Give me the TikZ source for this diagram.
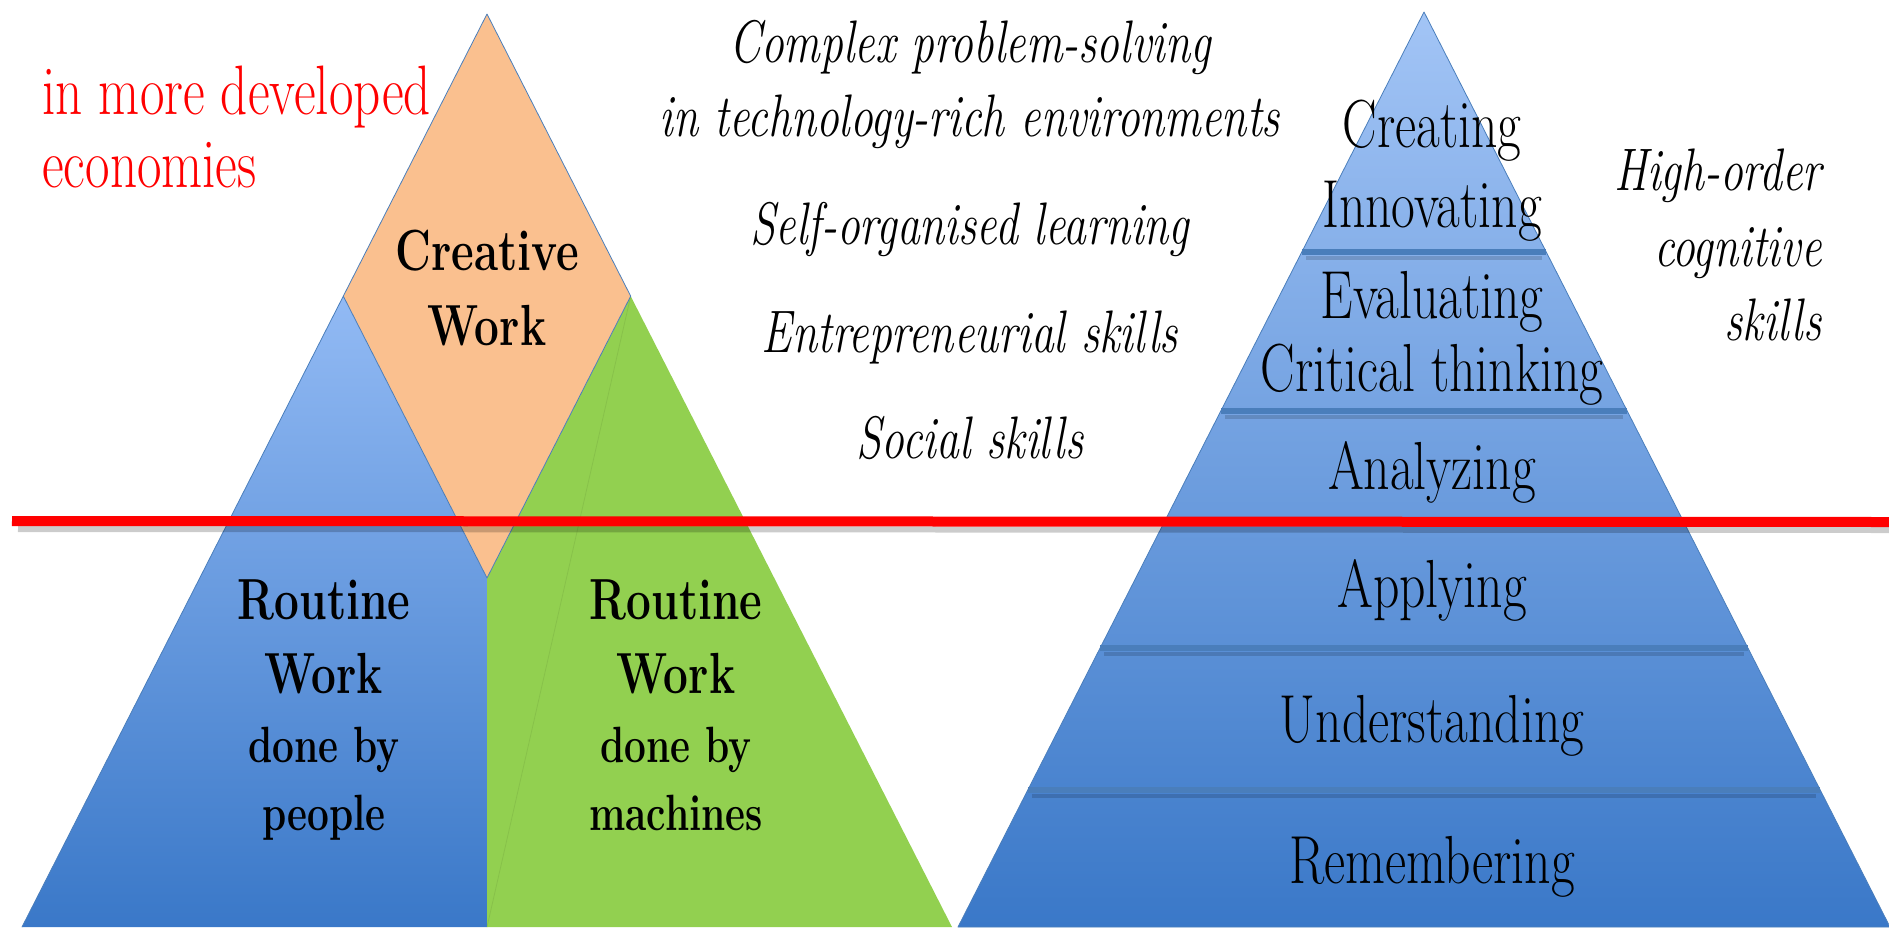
\documentclass[tikz,border=0pt]{standalone}
\usepackage{fontspec}
\usetikzlibrary{calc}
\definecolor{peach}{RGB}{250,192,143}
\definecolor{leaf}{RGB}{146,208,80}
\definecolor{skyTop}{RGB}{146,186,244}
\definecolor{skyBot}{RGB}{58,120,200}
\definecolor{bandLine}{RGB}{74,126,187}
\newcommand{\nar}[1]{\scalebox{0.76}[1]{#1}}

\begin{document}
\begin{tikzpicture}[x=0.5pt, y=-0.5pt, line join=round, line cap=round,
	lbl/.style={anchor=base, inner sep=0pt, font=\fontsize{34pt}{40pt}\selectfont},
	bold/.style={anchor=base, inner sep=0pt, font=\fontsize{29pt}{34pt}\selectfont\bfseries},
	boldsm/.style={anchor=base, inner sep=0pt, font=\fontsize{25.5pt}{30pt}\selectfont\bfseries},
	skill/.style={anchor=base, inner sep=0pt, font=\fontsize{30pt}{36pt}\selectfont\itshape},
	note/.style={anchor=base west, inner sep=0pt, text=red, font=\fontsize{35pt}{42pt}\selectfont}]
	\useasboundingbox (0,0) rectangle (1889,932);
	% left pyramid: routine and creative work
	\coordinate (LA) at (487,14);
	\coordinate (LL) at (22,927);
	\coordinate (LR) at (952,927);
	\coordinate (LM) at (487,927);
	\coordinate (DL) at ($(LA)!0.309!(LL)$);
	\coordinate (DR) at ($(LA)!0.309!(LR)$);
	\coordinate (DB) at (487,578);
	\shade[top color=skyTop, bottom color=skyBot] (DL) -- (LL) -- (LM) -- (DB) -- cycle;
	\fill[leaf] (DR) -- (DB) -- (LM) -- (LR) -- cycle;
	\draw[leaf!80!black, opacity=0.35] (DR) -- (LM);
	\fill[peach] (LA) -- (DL) -- (DB) -- (DR) -- cycle;
	\draw[bandLine, line width=0.4pt] (LL) -- (LA) -- (DR) -- (DB) -- (DL);
	% right pyramid: cognitive levels
	\coordinate (RA) at (1424,12);
	\coordinate (RL) at (958,927);
	\coordinate (RR) at (1890,927);
	\shadedraw[top color=skyTop!85!white, bottom color=skyBot, draw=bandLine, line width=0.4pt] (RA) -- (RL) -- (RR) -- cycle;
	\foreach \t in {0.2623,0.4361,0.6951,0.8503}{
		\draw[black, opacity=0.15, line width=2pt, line cap=butt] ($(RA)!\t!(RL)+(4,6)$) -- ($(RA)!\t!(RR)+(-4,6)$);
		\draw[bandLine, line width=3pt, line cap=butt] ($(RA)!\t!(RL)$) -- ($(RA)!\t!(RR)$);
	}
	% red divide
	\coordinate (RedL) at (12,521);
	\coordinate (RedR) at (1889,522);
	\draw[black, opacity=0.2, line width=3pt, line cap=butt] ($(RedL)+(6,8)$) -- ($(RedR)+(0,8)$);
	\draw[red, line width=5pt, line cap=butt] (RedL) -- (RedR);
	% texts
	\node[note] (dev1) at (42,114) {\nar{in more developed}};
	\node[note] (dev2) at (42,187) {\nar{economies}};
	\node[bold] (cre1) at (487,270) {\nar{Creative}};
	\node[bold] (cre2) at (487,345) {\nar{Work}};
	\foreach \x/\k/\who in {324/p/people,676/m/machines}{
		\node[bold] (rou\k) at (\x,619) {\nar{Routine}};
		\node[bold] (wrk\k) at (\x,693) {\nar{Work}};
		\node[boldsm] (don\k) at (\x,762) {\nar{done by}};
		\node[boldsm] (who\k) at (\x,830) {\nar{\who}};
	}
	\node[skill] (cps1) at (970,62) {\nar{Complex problem-solving}};
	\node[skill] (cps2) at (970,136) {\nar{in technology-rich environments}};
	\node[skill] (sol) at (970,244) {\nar{Self-organised learning}};
	\node[skill] (ent) at (970,352) {\nar{Entrepreneurial skills}};
	\node[skill] (soc) at (970,458) {\nar{Social skills}};
	\node[skill, anchor=base east] (hi1) at (1822,190) {\nar{High-order}};
	\node[skill, anchor=base east] (hi2) at (1822,266) {\nar{cognitive}};
	\node[skill, anchor=base east] (hi3) at (1822,340) {\nar{skills}};
	\foreach \y/\w [count=\i] in {147/Creating,227/Innovating,318/Evaluating,391/Critical thinking,489/Analyzing,607/Applying,742/Understanding,883/Remembering}
		\node[lbl] (lvl\i) at (1432,\y) {\nar{\w}};
\end{tikzpicture}
\end{document}
